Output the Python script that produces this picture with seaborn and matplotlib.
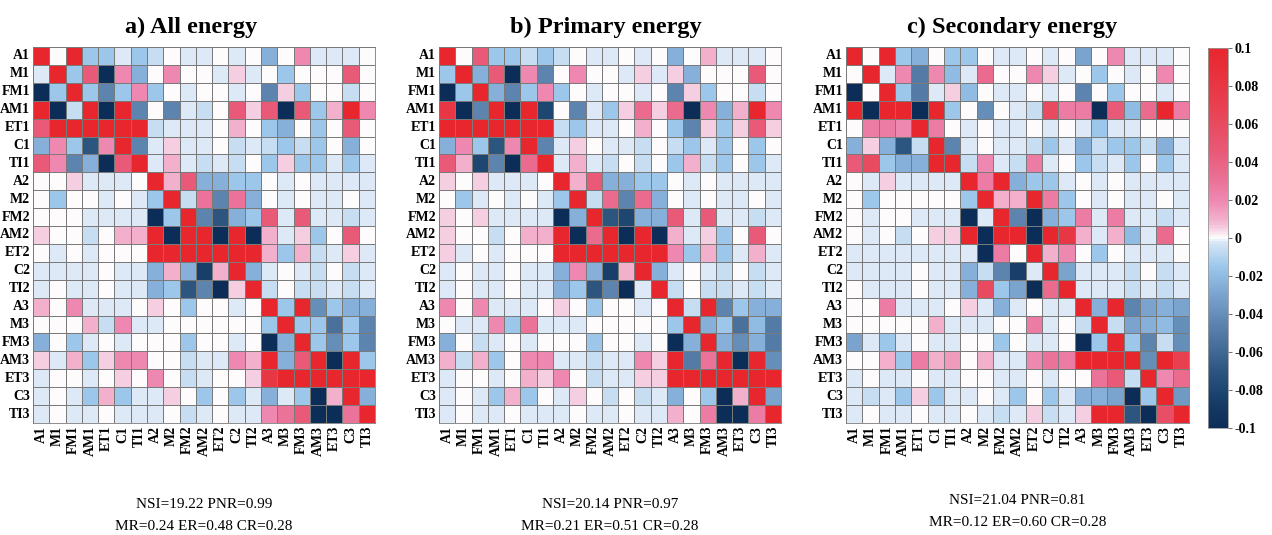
import numpy as np
import pandas as pd
import seaborn as sns
import matplotlib.pyplot as plt
from matplotlib.colors import LinearSegmentedColormap

LABELS = ["A1", "M1", "FM1", "AM1", "ET1", "C1", "TI1",
          "A2", "M2", "FM2", "AM2", "ET2", "C2", "TI2",
          "A3", "M3", "FM3", "AM3", "ET3", "C3", "TI3"]

TITLES = ["a) All energy", "b) Primary energy", "c) Secondary energy"]
STATS_LINE1 = ["NSI=19.22 PNR=0.99", "NSI=20.14 PNR=0.97", "NSI=21.04 PNR=0.81"]
STATS_LINE2 = ["MR=0.24 ER=0.48 CR=0.28", "MR=0.21 ER=0.51 CR=0.28", "MR=0.12 ER=0.60 CR=0.28"]
CBAR_TICKS = [0.1, 0.08, 0.06, 0.04, 0.02, 0, -0.02, -0.04, -0.06, -0.08, -0.1]

# values, in thousandths
ALL_ENERGY = [
    [100, 0, 100, -15, -15, -2, -15, -6, 0, -2, -2, 0, -2, 0, -25, 0, 20, -2, -2, -2, 0],
    [-2, 100, -15, 45, -100, 20, -25, 0, 20, 0, 0, -2, 5, -2, 0, -15, 0, 0, 0, 45, 0],
    [-100, -15, 100, -15, -45, -15, 20, -15, 0, -2, 0, 0, -2, 0, -45, 5, -15, 0, 0, -6, 0],
    [100, -100, -6, 100, -100, 100, -45, 0, -45, -2, -6, 0, 45, 5, 45, -100, 45, -15, 10, 100, 20],
    [45, 100, 100, 100, 100, 100, 100, -6, -2, -2, -2, 0, 10, 0, -15, -25, 0, -15, 0, 45, 0],
    [-25, 20, -15, -70, 20, 100, -45, -2, 5, -2, -2, 0, -6, -2, -6, -15, -6, -15, 0, -25, 0],
    [45, 20, -45, -25, -100, 45, 100, -2, 10, -2, -6, -2, -6, 0, -15, 5, -15, -15, -2, -15, -2],
    [0, 0, 5, -2, -2, -2, 0, 100, 10, 45, -25, -25, -15, -15, 0, -2, 0, -2, -2, -2, -2],
    [0, -15, 0, 0, -2, 0, -2, -15, 100, -6, 30, -45, 30, -25, 0, -2, 0, -2, -2, 0, -2],
    [0, 0, 0, -2, -2, -2, -2, -100, -15, 100, -45, -70, -25, -15, 45, -2, 45, -2, -2, -6, -2],
    [5, 0, 0, -6, 0, 10, 10, 100, -100, 100, 100, -100, 100, -100, 10, -2, 5, -15, 0, 45, 0],
    [0, -2, 0, -2, 0, 0, 0, 100, 100, 100, 100, 100, 100, 100, 10, -15, 10, -6, -2, 5, -2],
    [-2, -2, -2, -2, 0, -2, -2, -25, 10, -25, -85, 10, 100, -25, -2, 0, -2, -6, 0, -6, -2],
    [-2, 0, -2, -2, 0, -2, -2, -25, -15, -70, -45, -100, 5, 100, -6, 0, -6, -6, -2, -6, -2],
    [10, 0, 20, -2, -2, -2, 0, 5, 0, -15, 0, 0, -2, 0, 100, -15, 100, -40, -15, -25, -25],
    [0, 0, 0, 10, -6, 20, -2, -2, 0, 0, 0, 0, 0, 0, -15, 100, -15, -15, -55, -15, -45],
    [-25, 0, -15, -2, 0, -2, 0, 0, 0, -15, 0, 0, -2, 0, -100, -25, 100, -15, -40, -15, -45],
    [5, -2, 10, -15, 5, 20, 20, 0, 0, -6, -2, -2, 20, 10, 100, -25, 45, 100, -100, 100, -15],
    [-2, 0, 0, -2, 0, 5, 0, 20, 0, -6, -2, 0, 0, 5, 80, 100, 100, 100, 100, 100, 100],
    [-2, 0, -2, -15, 10, -15, -2, -2, 5, 0, -15, 0, -15, -2, -25, -2, -15, -100, 10, 100, -25],
    [-2, 0, -2, -2, 0, -2, -2, -2, 0, -6, -2, 0, -2, -2, 20, 30, 45, -100, -100, 30, 100],
]

PRIMARY_ENERGY = [
    [100, 0, 45, -15, -15, -6, -15, -6, 0, -2, -2, 0, -2, 0, -25, 0, 10, -2, -2, -2, 0],
    [-15, 100, -25, 45, -100, 20, -45, 0, 20, 0, 0, -2, 5, -2, 5, -25, 0, 0, 0, 45, 0],
    [-100, -15, 100, -25, -45, -15, 20, -15, 0, -2, 0, 0, -2, 0, -45, 5, -15, 0, 0, -6, 0],
    [80, -100, -45, 100, -100, 100, -80, 0, -45, -2, -15, 5, 35, 5, 35, -100, 20, -25, 10, 100, 20],
    [100, 100, 100, 100, 100, 100, 100, -6, -15, -2, -2, 0, 10, 0, -15, -45, 5, -15, 5, 45, 5],
    [-25, 20, -15, -70, 20, 100, -45, -2, 5, 0, -2, -2, -6, 0, -6, -15, -2, -15, 0, -15, 0],
    [45, 10, -80, -45, -100, 35, 100, -2, 10, -2, -6, 0, -6, 0, -15, 10, -6, -15, 0, -15, -2],
    [5, 0, 5, -2, -2, -2, 0, 100, 10, 45, -25, -25, -15, -15, 0, -2, 0, -2, -2, -2, -2],
    [0, -15, -2, 0, -2, 0, -2, -15, 100, -6, 35, -45, 35, -25, 0, -2, 0, -2, -2, 0, -2],
    [5, 0, 5, -2, -2, -2, -2, -100, -25, 100, -70, -80, -25, -25, 45, -2, 45, -2, -2, -6, -2],
    [5, 0, 0, -6, 0, 10, 10, 100, -100, 35, 100, -100, 100, -100, 10, -2, 5, -15, 0, 45, 0],
    [5, -2, 0, -2, 0, 0, 0, 100, 100, 100, 100, 100, 100, 100, 20, -15, 10, -15, -2, 10, -2],
    [-2, 0, -2, -2, 0, -2, -2, -25, 20, -25, -85, 10, 100, -25, -2, 0, -2, -6, 0, -6, -2],
    [-2, 0, -2, -2, 0, -2, -2, -25, -15, -70, -45, -100, -2, 100, -6, 0, -6, -6, -2, -6, -2],
    [20, 0, 20, -2, -2, -2, 0, 5, 0, -15, 0, 0, -2, 0, 100, -6, 100, -45, -15, -25, -25],
    [0, -2, -2, 20, -15, 30, -2, -2, -2, 0, 0, 0, 0, 0, -15, 100, -25, -15, -55, -20, -50],
    [-25, 0, -6, -2, 0, -2, 0, 0, 0, -15, 0, 0, -2, 0, -100, -25, 100, -25, -40, -25, -50],
    [10, -6, 10, -15, 0, 20, 20, -2, -2, -6, -2, -2, 20, 5, 100, -50, 30, 100, -100, 100, -40],
    [-2, 0, 0, -2, 0, 10, 5, 20, 0, -6, -2, -2, 5, 5, 100, 100, 100, 100, 100, 100, 100],
    [-2, 0, -2, -15, 10, -15, 0, -2, 5, 0, -6, 0, -6, -2, -25, 0, -15, -100, 10, 100, -30],
    [-2, 0, -2, -2, 0, -2, -2, -2, 0, -2, -2, 0, -2, -2, 10, 0, 25, -100, -100, 25, 100],
]

SECONDARY_ENERGY = [
    [100, 0, 100, -15, -25, 0, -15, -15, 0, -2, -2, 0, -2, 0, -30, 0, 20, -2, -2, -2, 0],
    [0, 100, -2, 20, -50, 20, -20, -2, 35, 0, 0, 20, 5, -2, 0, -15, 0, -2, 0, 20, 0],
    [-100, 0, 100, -15, -50, -2, 5, -20, 0, -2, -2, 0, -2, 0, -45, 0, -15, 0, 0, -2, 0],
    [100, -100, 100, 100, -100, 100, -15, 0, -40, 0, -2, -6, 60, 25, 25, -100, 45, -20, 35, 100, 25],
    [0, 25, 25, 20, 100, 25, 0, -2, 0, -2, -2, 0, -2, 0, -2, -15, -2, -2, 0, 0, 0],
    [-25, 5, -25, -70, -6, 100, -45, -2, 0, -2, -2, -6, -15, -2, -25, -6, -15, -15, -6, -25, -2],
    [45, 60, -15, -25, -25, 100, 100, -6, 20, -2, -6, 25, -2, 0, -15, -6, -2, -15, 0, -15, -2],
    [0, -2, 5, -2, -2, -2, -2, 100, 25, 100, -25, -15, -15, -2, 0, -2, 0, -2, -2, -2, -2],
    [0, -15, 0, 0, 0, 0, 0, -15, 100, 10, 10, 100, 25, -15, 0, -2, 0, -2, -2, 0, -2],
    [0, -2, 0, 0, -2, -2, -2, -100, -2, 100, -45, -100, -25, -15, 25, -2, 25, -2, -2, -6, -2],
    [0, -2, 0, -6, 0, 5, 5, 100, -100, 100, 100, -100, 100, 80, 10, -2, 10, -20, -2, 35, 0],
    [-2, -2, -2, -2, -2, -2, -2, -2, -100, 25, 0, 100, 10, 20, 0, -15, 0, -2, -2, -2, 0],
    [-2, -2, -2, -2, 0, -2, -2, -25, -6, -45, -85, -2, 100, -30, -2, -2, -2, -6, 0, -6, -2],
    [0, -2, -2, -2, 0, -2, -2, -25, 60, -15, -30, -100, 35, 100, -2, -2, -2, -6, -2, -6, -2],
    [0, 0, 25, -2, -2, -2, 0, 5, -2, -25, -2, 0, -2, -2, 100, -25, 100, -45, -30, -25, -30],
    [0, 0, 0, 0, 0, 10, -2, -2, -2, 0, 0, 25, -2, 0, -6, 100, -6, -30, -25, -20, -40],
    [-30, -2, -15, -2, 0, -2, -2, 0, 0, -15, 0, -2, -2, 0, -100, -15, 100, -15, -45, -6, -40],
    [0, 0, 10, -15, 25, 10, 15, 0, 10, -2, -2, 20, 30, 25, 100, 100, 100, 100, -40, 100, 70],
    [-2, 0, -2, -2, 0, -2, -2, 0, 0, -2, -2, 0, -2, 0, 0, 30, 45, -6, 100, 20, 35],
    [-2, -6, -2, -15, 5, -15, -2, -2, 0, -2, -15, 0, -15, -2, -25, -25, -30, -100, -15, 100, -35],
    [-2, 0, -2, -2, 0, -2, -2, 0, -2, -6, -2, 5, -6, -2, 5, 100, 100, -70, -100, 55, 100],
]

# blue - white - red palette with a sharp step around zero
anchors = [(-100, "#0C2D57"), (-85, "#173F69"), (-70, "#2C5680"), (-55, "#4A729C"),
           (-45, "#5C84AF"), (-30, "#7AA4CE"), (-20, "#90BBE2"), (-15, "#9DC8EC"),
           (-6, "#C5DDF2"), (-2, "#DCE9F6"), (0, "#FFFFFF"), (5, "#F6CFE1"),
           (10, "#F2AFCB"), (20, "#EE88B1"), (30, "#EB7399"), (45, "#E85A78"),
           (70, "#E8404F"), (100, "#E8262E")]
cmap = LinearSegmentedColormap.from_list(
    "bwr_custom", [((v + 100) / 200, c) for v, c in anchors])

serif = "Liberation Serif"

fig = plt.figure(figsize=(12.72, 5.35), dpi=100)
W, H = 1272, 535

# pixel boxes of the three heatmaps (left, top, right, bottom)
boxes = [(33, 47, 375, 423), (439, 47, 781, 423), (846, 47, 1189, 423)]
title_x = [191, 606, 1012]
stats_y = [(505, 527), (505, 527), (500, 522)]
cax = fig.add_axes([1208 / W, 1 - 428 / H, 20 / W, 380 / H])

cbar = None
for i, data in enumerate([ALL_ENERGY, PRIMARY_ENERGY, SECONDARY_ENERGY]):
    l, t, r, b = boxes[i]
    ax = fig.add_axes([l / W, 1 - b / H, (r - l) / W, (b - t) / H])
    df = pd.DataFrame(np.array(data) / 1000, index=LABELS, columns=LABELS)
    last = i == 2
    sns.heatmap(df, ax=ax, cmap=cmap, vmin=-0.1, vmax=0.1,
                linewidths=0.6, linecolor="#7a7a7a",
                cbar=last, cbar_ax=cax if last else None,
                xticklabels=True, yticklabels=True)
    if last:
        cbar = ax.collections[0].colorbar
    ax.set_xticklabels(LABELS, rotation=90, fontsize=10, fontweight="bold", family=serif)
    ax.set_yticklabels(LABELS, rotation=0, fontsize=10, fontweight="bold", family=serif)
    ax.tick_params(length=0, pad=2)
    ax.set_xlabel("")
    ax.set_ylabel("")
    for s in ax.spines.values():
        s.set_visible(True)
        s.set_color("#7a7a7a")
        s.set_linewidth(0.6)

    fig.text(title_x[i] / W, 1 - 33 / H, TITLES[i], ha="center", va="baseline",
             fontsize=17.5, fontweight="bold", family=serif)
    cx = (l + r) / 2 / W
    fig.text(cx, 1 - stats_y[i][0] / H, STATS_LINE1[i], ha="center", va="center",
             fontsize=11, family=serif)
    fig.text(cx, 1 - stats_y[i][1] / H, STATS_LINE2[i], ha="center", va="center",
             fontsize=11, family=serif)

cbar.set_ticks(CBAR_TICKS)
cbar.set_ticklabels([f"{t:g}" for t in CBAR_TICKS])
for lab in cax.get_yticklabels():
    lab.set_fontsize(10)
    lab.set_fontweight("bold")
    lab.set_family(serif)
cax.tick_params(length=3, width=0.6, color="#555555", pad=2)
cbar.outline.set_edgecolor("#999999")
cbar.outline.set_linewidth(0.6)

fig.savefig("out.png", dpi=100)
